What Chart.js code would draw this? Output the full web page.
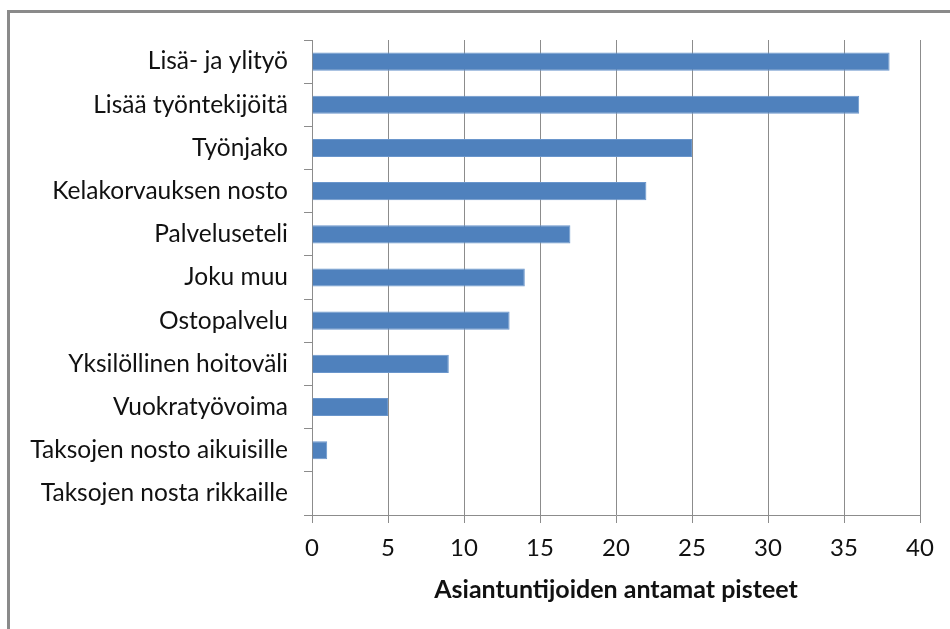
<!DOCTYPE html>
<html lang="fi">
<head>
    <meta charset="UTF-8">
    <title>Asiantuntijoiden antamat pisteet</title>
    <script src="https://cdn.jsdelivr.net/npm/chart.js"></script>
    <style>
        body { margin: 0; background: #fff; overflow: hidden; }
        #frame { position: absolute; left: 7px; top: 10px; width: 1000px; height: 1000px; border: 3px solid #8a8a8a; box-sizing: border-box; }
        #chart { position: absolute; left: 0; top: 0; }
    </style>
</head>
<body>
    <div id="frame"></div>
    <canvas id="chart" width="950" height="629"></canvas>

    <script>
        // categories, top to bottom
        const labels = [
            'Lisä- ja ylityö',
            'Lisää työntekijöitä',
            'Työnjako',
            'Kelakorvauksen nosto',
            'Palveluseteli',
            'Joku muu',
            'Ostopalvelu',
            'Yksilöllinen hoitoväli',
            'Vuokratyövoima',
            'Taksojen nosto aikuisille',
            'Taksojen nosta rikkaille'
        ];
        const points = [38, 36, 25, 22, 17, 14, 13, 9, 5, 1, 0];
        const xTitle = 'Asiantuntijoiden antamat pisteet';
        const xMin = 0, xMax = 40, xStep = 5;

        const font = "Lato, 'Open Sans', sans-serif";
        const gridColor = '#8c8c8c';

        new Chart(document.getElementById('chart'), {
            type: 'bar',
            data: {
                labels: labels,
                datasets: [{
                    data: points,
                    backgroundColor: '#4f81bd',
                    borderColor: '#6a96cc',
                    borderWidth: 1,
                    categoryPercentage: 1,
                    barPercentage: 0.42
                }]
            },
            options: {
                indexAxis: 'y',
                responsive: false,
                animation: false,
                layout: { padding: { top: 40, right: 30, left: 0, bottom: 0 } },
                plugins: { legend: { display: false }, tooltip: { enabled: false } },
                scales: {
                    y: {
                        afterFit: s => { s.width = 312; },
                        grid: { drawOnChartArea: false, color: gridColor, tickLength: 8 },
                        border: { color: gridColor },
                        ticks: { color: '#111', padding: 16, autoSkip: false, font: { family: font, size: 24.5 } }
                    },
                    x: {
                        min: xMin,
                        max: xMax,
                        afterFit: s => { s.height = 114; },
                        grid: { color: gridColor, tickLength: 8 },
                        border: { color: gridColor },
                        ticks: { stepSize: xStep, color: '#111', padding: 11, maxRotation: 0, font: { family: font, size: 24 } },
                        title: {
                            display: true,
                            text: xTitle,
                            color: '#111',
                            padding: { top: 2, bottom: 24 },
                            font: { family: font, size: 25, weight: 'bold' }
                        }
                    }
                }
            }
        });
    </script>
</body>
</html>
